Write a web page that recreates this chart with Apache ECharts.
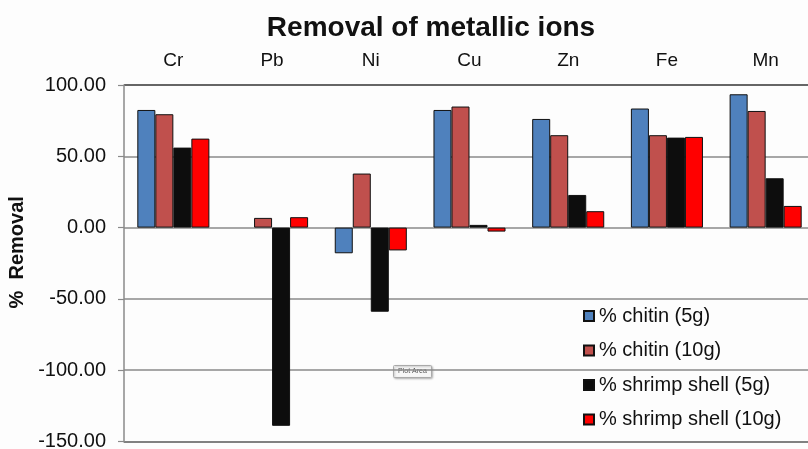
<!DOCTYPE html>
<html>
<head>
<meta charset="utf-8">
<title>Removal of metallic ions</title>
<script src="https://cdn.jsdelivr.net/npm/echarts@6/dist/echarts.min.js"></script>
<style>
  html, body { margin: 0; padding: 0; background: #fdfdfd; }
  #main { width: 808px; height: 449px; }
</style>
</head>
<body>
<div id="main"></div>
<script>
// metals on the category axis
var metals = ['Cr', 'Pb', 'Ni', 'Cu', 'Zn', 'Fe', 'Mn'];

// % removal per adsorbent
var chitin5 = [82.5, 0, -18, 82.5, 76.2, 83.5, 93.5];
var chitin10 = [79.5, 6.8, 37.9, 84.9, 64.8, 64.8, 81.8];
var shrimp5 = [56.1, -139, -59, 1.9, 22.9, 63.1, 34.6];
var shrimp10 = [62.4, 7.3, -16, -2.8, 11.5, 63.6, 15.2];

var seriesNames = ['% chitin (5g)', '% chitin (10g)', '% shrimp shell (5g)', '% shrimp shell (10g)'];
var seriesColors = ['#4f81bd', '#c0504d', '#0d0d0d', '#ff0000'];

var yTicks = { min: -150, max: 100, step: 50 };

var font = 'Liberation Sans, Arial, sans-serif';

var makeSeries = function(i, data) {
    return {
        name: seriesNames[i],
        type: 'bar',
        xAxisIndex: 0,
        // a zero bar is not drawn at all in the original (no outline either)
        data: data.map(function(v) {
            return v === 0 ? { value: 0, itemStyle: { borderWidth: 0 } } : v;
        }),
        barGap: '0%',
        barCategoryGap: '27%',
        itemStyle: { color: seriesColors[i], borderColor: '#111', borderWidth: 1 }
    };
};

var chart = echarts.init(document.getElementById('main'));
chart.setOption({
    animation: false,
    backgroundColor: '#fdfdfd',
    title: {
        text: 'Removal of metallic ions',
        left: 426,
        textAlign: 'center',
        top: 9,
        textStyle: { fontFamily: font, fontSize: 28, fontWeight: 'bold', color: '#111' }
    },
    legend: {
        orient: 'vertical',
        left: 583,
        top: 306,
        padding: 0,
        itemWidth: 10,
        itemHeight: 10,
        itemGap: 14.5,
        icon: 'rect',
        textStyle: { fontFamily: font, fontSize: 20, color: '#111' },
        data: seriesNames
    },
    grid: { left: 124, top: 85, width: 691, height: 356.5, containLabel: false, outerBoundsMode: 'none' },
    xAxis: [{
        type: 'category',
        data: metals,
        position: 'top',
        axisLine: { show: false },
        axisTick: { show: false },
        axisLabel: { fontFamily: font, fontSize: 19, color: '#111', margin: 15 }
    }, {
        type: 'category',
        data: metals,
        position: 'bottom',
        axisLine: { onZero: true, lineStyle: { color: '#8a8a8a', width: 1.5 } },
        axisTick: { length: 5, lineStyle: { color: '#8a8a8a', width: 1.2 } },
        axisLabel: { show: false }
    }],
    yAxis: {
        type: 'value',
        min: yTicks.min,
        max: yTicks.max,
        interval: yTicks.step,
        name: '%  Removal',
        nameLocation: 'middle',
        nameGap: 88,
        nameTextStyle: { fontFamily: font, fontSize: 20, fontWeight: 'bold', color: '#111', padding: [0, 0, 0, 22] },
        axisLine: { show: true, lineStyle: { color: '#8a8a8a', width: 1.5 } },
        axisTick: { show: true, length: 6, lineStyle: { color: '#8a8a8a', width: 1.2 } },
        axisLabel: {
            fontFamily: font, fontSize: 20, color: '#111', margin: 18,
            formatter: function(v) { return v.toFixed(2); }
        },
        splitLine: {
            show: true,
            lineStyle: { color: ['#333', '#8a8a8a', '#8a8a8a', '#8a8a8a', '#8a8a8a', '#333'], width: 1.5 }
        }
    },
    series: [
        makeSeries(0, chitin5),
        makeSeries(1, chitin10),
        makeSeries(2, shrimp5),
        makeSeries(3, shrimp10)
    ],
    graphic: [{
        type: 'group',
        left: 393,
        top: 365,
        children: [{
            type: 'rect',
            shape: { x: 0, y: 0, width: 38, height: 12, r: 1 },
            style: { fill: '#f7f7f7', stroke: '#aaa', lineWidth: 1, shadowBlur: 2, shadowColor: 'rgba(0,0,0,0.25)', shadowOffsetX: 1, shadowOffsetY: 1 }
        }, {
            type: 'text',
            x: 19,
            y: 6,
            style: { text: 'Plot Area', fontFamily: font, fontSize: 7, fill: '#555', align: 'center', verticalAlign: 'middle' }
        }]
    }]
});
</script>
</body>
</html>
